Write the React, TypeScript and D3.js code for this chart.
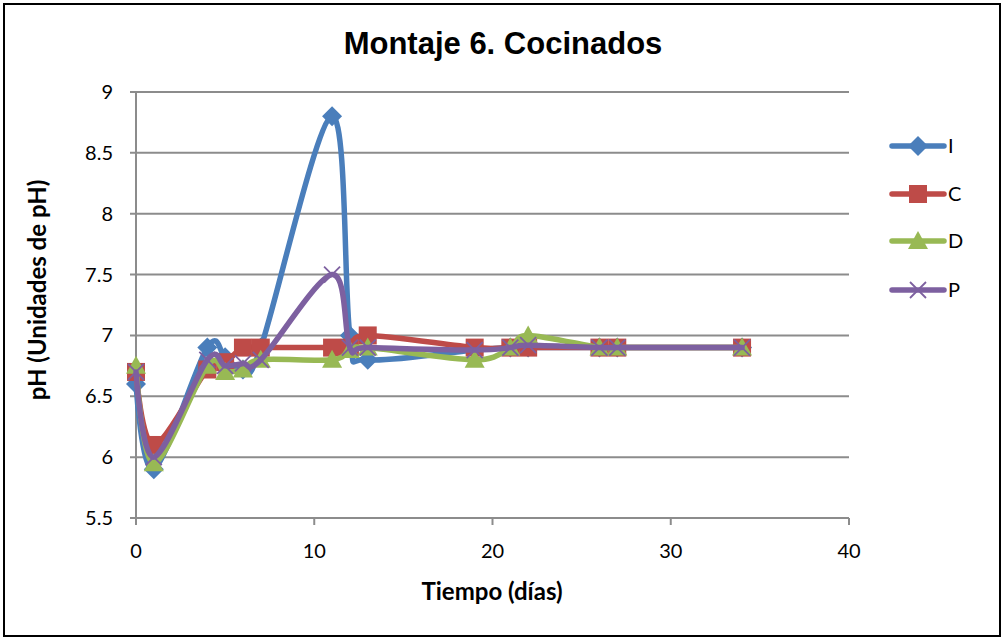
import React from "react";
import * as d3 from "d3";

const days = [0, 1, 4, 5, 6, 7, 11, 12, 13, 19, 21, 22, 26, 27, 34];
const seriesI = [6.6, 5.9, 6.9, 6.82, 6.72, 6.9, 8.8, 7.0, 6.8, 6.88, 6.9, 6.9, 6.9, 6.9, 6.9];
const seriesC = [6.7, 6.1, 6.72, 6.78, 6.9, 6.9, 6.9, 6.9, 7.0, 6.9, 6.9, 6.9, 6.9, 6.9, 6.9];
const seriesD = [6.75, 5.95, 6.75, 6.7, 6.72, 6.8, 6.8, 6.88, 6.9, 6.8, 6.9, 7.0, 6.9, 6.9, 6.9];
const seriesP = [6.7, 6.0, 6.8, 6.75, 6.77, 6.8, 7.5, 6.9, 6.9, 6.88, 6.9, 6.92, 6.9, 6.9, 6.9];
const names = ["I", "C", "D", "P"];
const colors = ["#4a7ebb", "#be4b48", "#98b954", "#7d60a0"];
const markers = ["diamond", "square", "triangle", "x"];
const xTicks = [0, 10, 20, 30, 40];
const yTicks = [5.5, 6, 6.5, 7, 7.5, 8, 8.5, 9];

const W = 1005, H = 642;
const x = d3.scaleLinear().domain([0, 40]).range([136, 849]);
const y = d3.scaleLinear().domain([5.5, 9]).range([518, 92]);

function Marker({ type, cx, cy, color }: { type: string; cx: number; cy: number; color: string }) {
  if (type === "diamond") {
    const s = 10;
    return <path d={`M${cx},${cy - s}L${cx + s},${cy}L${cx},${cy + s}L${cx - s},${cy}Z`} fill={color} />;
  }
  if (type === "square") {
    const s = 9;
    return <rect x={cx - s} y={cy - s} width={2 * s} height={2 * s} fill={color} />;
  }
  if (type === "triangle") {
    const s = 10;
    return <path d={`M${cx},${cy - s}L${cx + s},${cy + s * 0.8}L${cx - s},${cy + s * 0.8}Z`} fill={color} />;
  }
  const s = 8;
  return (
    <path d={`M${cx - s},${cy - s}L${cx + s},${cy + s}M${cx - s},${cy + s}L${cx + s},${cy - s}`} stroke={color} strokeWidth={1.8} fill="none" />
  );
}

export default function App() {
  const all = [seriesI, seriesC, seriesD, seriesP];
  const line = d3
    .line<[number, number]>()
    .x((d) => x(d[0]))
    .y((d) => y(d[1]))
    .curve(d3.curveCatmullRom.alpha(0));
  const legendY = [146, 194, 241, 290];
  return (
    <svg width={W} height={H} style={{ position: "absolute", left: 0, top: 0 }}>
      <rect x={0} y={0} width={W} height={H} fill="#fff" />
      <rect x={4} y={4} width={996} height={632} fill="none" stroke="#000" strokeWidth={2} />
      <text x={503} y={54} textAnchor="middle" fontFamily="Liberation Sans, Arial, sans-serif" fontWeight="bold" fontSize={31}>
        Montaje 6. Cocinados
      </text>
      {yTicks.map((t) => (
        <g key={t}>
          <line x1={130} x2={849} y1={y(t)} y2={y(t)} stroke="#8c8c8c" strokeWidth={2} />
          <text x={113} y={y(t) + 7} textAnchor="end" fontFamily="Lato, sans-serif" fontSize={20}>
            {t}
          </text>
        </g>
      ))}
      <line x1={x(0)} x2={x(0)} y1={92} y2={518} stroke="#8c8c8c" strokeWidth={2} />
      {xTicks.map((t) => (
        <g key={t}>
          <line x1={x(t)} x2={x(t)} y1={518} y2={525} stroke="#8c8c8c" strokeWidth={2} />
          <text x={x(t)} y={558} textAnchor="middle" fontFamily="Lato, sans-serif" fontSize={20}>
            {t}
          </text>
        </g>
      ))}
      <text x={492} y={600} textAnchor="middle" fontFamily="Lato, sans-serif" fontWeight="bold" fontSize={24}>
        Tiempo (días)
      </text>
      <text
        transform="translate(46,290) rotate(-90)"
        textAnchor="middle"
        fontFamily="Lato, sans-serif"
        fontWeight="bold"
        fontSize={24}
      >
        pH (Unidades de pH)
      </text>
      {all.map((vals, i) => {
        const pts = days.map((d, j) => [d, vals[j]] as [number, number]);
        return (
          <g key={names[i]}>
            <path d={line(pts) || ""} fill="none" stroke={colors[i]} strokeWidth={5.5} strokeLinejoin="round" strokeLinecap="round" />
            {pts.map((p, j) => (
              <Marker key={j} type={markers[i]} cx={x(p[0])} cy={y(p[1])} color={colors[i]} />
            ))}
          </g>
        );
      })}
      {names.map((n, i) => (
        <g key={n}>
          <line x1={892} x2={944} y1={legendY[i]} y2={legendY[i]} stroke={colors[i]} strokeWidth={5.5} strokeLinecap="round" />
          <Marker type={markers[i]} cx={918} cy={legendY[i]} color={colors[i]} />
          <text x={948} y={legendY[i] + 7} fontFamily="Lato, sans-serif" fontSize={20}>
            {n}
          </text>
        </g>
      ))}
    </svg>
  );
}
